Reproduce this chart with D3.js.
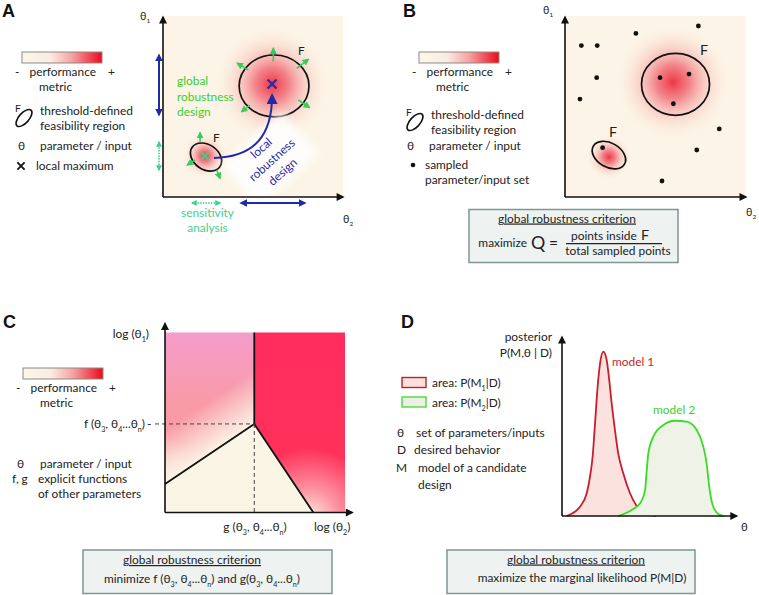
<!DOCTYPE html>
<html><head><meta charset="utf-8">
<script src="https://cdn.jsdelivr.net/npm/d3@7"></script>
<style>
body{margin:0;background:#fff;}
svg text{font-family:Lato,"Open Sans","DejaVu Sans",sans-serif;}
</style></head><body>
<svg id="c" width="759" height="595"></svg>
<script>
// ================= DATA =================
const panelLetters = ["A","B","C","D"];
// Panel A (θ2, θ1 in arbitrary units 0-100)
const aRegions = [ {cx:61.7, cy:61.7, rx:19.4, ry:17.2, rot:0}, {cx:23.9, cy:22.2, rx:9.4, ry:6.9, rot:35} ];
const aPeaks = [[60.6,62.8],[23.3,22.8]];
const aGlow = [31, 12];
const aOutward = [[61.3,75.2,61.3,82.6],[74.3,71.5,80.7,76.5],[47.4,70.6,41.3,74.3],[48.3,51.1,43.7,47.4],[75.2,53.9,81.3,49.8],
                  [20.6,30.7,20.6,35.7],[17.8,20.6,13.5,17.8],[29.8,15.0,31.7,10.4]];
const aLocalPath = [[28.3,21.7],[51.1,22.2],[60.6,34.4],[60.6,56.5]];
const aRangesY = [{from:78.9,to:45.6,kind:"blue"},{from:30.6,to:15.0,kind:"green"}];
const aRangesX = [{from:16.1,to:31.7,kind:"green"},{from:43.3,to:78.9,kind:"blue"}];
// Panel B
const bRegions = [ {cx:61.4, cy:62.6, rx:18.9, ry:17.2, rot:0}, {cx:24.4, cy:23.3, rx:10, ry:6.7, rot:30} ];
const bPeaks = [[60,63.9],[24.4,22.2]];
const bGlow = [31, 12];
const bSamples = [[9.1,84.1],[17.9,84.1],[39.4,90.9],[74.1,95.0],[17.6,66.3],[8.3,54.4],[85.7,37.8],[73.2,26.1],[53.9,8.9],
                  [52.8,66.3],[68.9,68.3],[60.2,51.8],[20.9,27.4]];
// Panel C
const cF = 49.2, cG = 49.6, cLeftY = 15.8, cBottomX = 82.4;
// Panel D posterior curves
const model1 = [[2.7,0],[10.4,5.2],[14.3,12.7],[16.2,22.0],[17.7,33.1],[19.1,51.8],[20.6,72.2],[22.0,85.3],[23.9,91.8],[25.8,87.2],
                [27.3,76.0],[28.7,63.0],[30.6,48.0],[32.5,35.0],[35.4,23.9],[39.3,12.7],[42.8,6.1],[46.1,2.4],[50.9,0.6],[54.3,0]];
const model2 = [[32.4,0],[40.3,3.4],[45.1,7.1],[48.0,14.5],[49.0,25.7],[49.9,35.0],[52.8,44.3],[58.6,50.8],[65.3,53.2],[72.1,52.7],
                [77.9,48.0],[81.7,38.7],[83.6,29.4],[85.1,16.4],[87.1,6.1],[90.3,1.1],[93.2,0]];

// ================= SETUP =================
const BG = "#fcf4e6", INK = "#222";
const BLUE = "#1f2aa8", GREEN = "#35cc5a", TEAL = "#42d08c", GTXT = "#3bcf2e";
const svg = d3.select("#c");
// calibrate font size so "threshold-defined" is ~93px wide, like the reference
const probe = svg.append("text").attr("font-size",100).text("threshold-defined");
const FS = Math.min(16.5, Math.max(11, 100*93/probe.node().getComputedTextLength()));
probe.remove();
const defs = svg.append("defs");
function marker(id, color, w, h){
  defs.append("marker").attr("id",id).attr("viewBox","0 0 10 10").attr("refX",8).attr("refY",5)
    .attr("markerUnits","userSpaceOnUse").attr("markerWidth",w).attr("markerHeight",h).attr("orient","auto-start-reverse")
    .append("path").attr("d","M0,0L10,5L0,10z").attr("fill",color);
}
marker("mBlack","#111",10,8); marker("mBlue",BLUE,8,8); marker("mBlueBig",BLUE,12,11);
marker("mGreen",GREEN,7,7); marker("mTeal",TEAL,6,6);
function grad(id, stops, type, attrs){
  const g = defs.append(type||"linearGradient").attr("id",id);
  if(attrs) Object.entries(attrs).forEach(([k,v])=>g.attr(k,v));
  stops.forEach(s=>g.append("stop").attr("offset",s[0]).attr("stop-color",s[1]).attr("stop-opacity",s[2]==null?1:s[2]));
}
grad("perf",[[0,"#fdf6ea"],[0.35,"#fbece0"],[0.62,"#f6a4a4"],[0.85,"#f24650"],[1,"#ec0a1a"]]);
grad("glow",[[0,"#ee2c3c",0.95],[0.3,"#f06470",0.78],[0.62,"#f6aaa6",0.42],[1,"#fbe4d6",0]],"radialGradient");
defs.append("filter").attr("id","blur").append("feGaussianBlur").attr("stdDeviation",4);

function rich(t, str, fs){
  const parts = str.split(/(_\w)/); let sh=false;
  parts.forEach(p=>{ if(!p) return;
    if(p[0]==="_" && p.length===2){ t.append("tspan").attr("dy", sh?0:fs*0.3).attr("font-size",fs*0.6).text(p[1]); sh=true; }
    else { t.append("tspan").attr("dy", sh?-fs*0.3:0).text(p); sh=false; }
  });
}
function txt(g,x,y,str,o={}){
  const fs=o.fs||FS;
  const t=g.append("text").attr("x",x).attr("y",y).attr("font-size",fs).attr("fill",o.fill||INK);
  if(o.anchor) t.attr("text-anchor",o.anchor);
  if(o.weight) t.attr("font-weight",o.weight);
  if(o.family) t.style("font-family",o.family);
  if(o.deco) t.style("text-decoration",o.deco);
  rich(t,str,fs); return t;
}
function cross(g,x,y,s,color,w){
  g.append("path").attr("d",`M${x-s},${y-s}L${x+s},${y+s}M${x-s},${y+s}L${x+s},${y-s}`).attr("stroke",color).attr("stroke-width",w).attr("fill","none");
}
function perfLegend(g,x,y){
  g.append("rect").attr("x",x).attr("y",y).attr("width",80).attr("height",11).attr("fill","url(#perf)").attr("stroke","#8a8a8a").attr("stroke-width",1);
  txt(g,x-7,y+24,"-"); txt(g,x+7.5,y+24,"performance"); txt(g,x+86,y+24,"+"); txt(g,x+17,y+39,"metric");
}
function feasLegend(g,ix,iy){
  g.append("ellipse").attr("transform",`translate(${ix},${iy}) rotate(-48)`).attr("rx",10.5).attr("ry",5).attr("fill","none").attr("stroke","#111").attr("stroke-width",1.6);
  txt(g,ix-9,iy-6,"F",{fs:FS*0.85});
  txt(g,ix+16,iy-3,"threshold-defined"); txt(g,ix+16,iy+12,"feasibility region");
}
function axes(g,x,y,xEnd,yEnd){
  g.append("line").attr("x1",x(0)).attr("y1",y(0)).attr("x2",x(xEnd)).attr("y2",y(0)).attr("stroke","#111").attr("stroke-width",1.6).attr("marker-end","url(#mBlack)");
  g.append("line").attr("x1",x(0)).attr("y1",y(0)).attr("x2",x(0)).attr("y2",y(yEnd)).attr("stroke","#111").attr("stroke-width",1.6).attr("marker-end","url(#mBlack)");
}
function regionPanel(g,x,y,regions,peaks,glow){
  g.append("rect").attr("x",x(0)).attr("y",y(100)-1).attr("width",x(100)-x(0)).attr("height",y(0)-y(100)+1).attr("fill",BG);
  peaks.forEach((p,i)=>g.append("circle").attr("cx",x(p[0])).attr("cy",y(p[1])).attr("r",x(glow[i])-x(0)).attr("fill","url(#glow)"));
  regions.forEach(r=>g.append("ellipse").attr("transform",`translate(${x(r.cx)},${y(r.cy)}) rotate(${r.rot})`)
    .attr("rx",x(r.rx)-x(0)).attr("ry",y(0)-y(r.ry)).attr("fill","none").attr("stroke","#111").attr("stroke-width",1.7));
}
function box(g,x0,y0,x1,y1){
  g.append("rect").attr("x",x0).attr("y",y0).attr("width",x1-x0).attr("height",y1-y0).attr("fill","#eef3f2").attr("stroke","#7e9696").attr("stroke-width",1.5);
}
const letterPos = [[2,17],[403,17],[3,328],[401,328]];
panelLetters.forEach((L,i)=>txt(svg,letterPos[i][0],letterPos[i][1],L,{fs:18,weight:"bold",family:"'Liberation Sans',Arial,sans-serif",fill:"#111"}));

// ================= PANEL A =================
const gA = svg.append("g");
const xA = d3.scaleLinear().domain([0,100]).range([163,343]);
const yA = d3.scaleLinear().domain([0,100]).range([197,17]);
regionPanel(gA,xA,yA,aRegions,aPeaks,aGlow);
gA.append("rect").attr("x",-40).attr("y",-30).attr("width",80).attr("height",56).attr("fill","#fff").attr("opacity",0.9)
  .attr("transform","translate(272,161) rotate(-42)").attr("filter","url(#blur)");
aOutward.forEach(a=>gA.append("line").attr("x1",xA(a[0])).attr("y1",yA(a[1])).attr("x2",xA(a[2])).attr("y2",yA(a[3]))
  .attr("stroke",GREEN).attr("stroke-width",1.6).attr("marker-end","url(#mGreen)"));
cross(gA,xA(aPeaks[0][0]),yA(aPeaks[0][1]),4.5,"#2a2aa8",2.2);
cross(gA,xA(aPeaks[1][0]),yA(aPeaks[1][1]),4,TEAL,2);
const lp = d3.path(); const P = aLocalPath.map(p=>[xA(p[0]),yA(p[1])]);
lp.moveTo(...P[0]); lp.bezierCurveTo(...P[1],...P[2],...P[3]);
gA.append("path").attr("d",lp.toString()).attr("fill","none").attr("stroke",BLUE).attr("stroke-width",2).attr("marker-end","url(#mBlueBig)");
function rangeLine(sel,r){
  const b = r.kind==="blue";
  sel.attr("stroke",b?BLUE:TEAL).attr("stroke-width",b?2:1.6).attr("stroke-dasharray",b?null:"1.5,1.2")
    .attr("marker-start",b?"url(#mBlue)":"url(#mTeal)").attr("marker-end",b?"url(#mBlue)":"url(#mTeal)");
}
aRangesY.forEach(r=>rangeLine(gA.append("line").attr("x1",xA(0)-4).attr("x2",xA(0)-4).attr("y1",yA(r.from)).attr("y2",yA(r.to)),r));
aRangesX.forEach(r=>rangeLine(gA.append("line").attr("y1",yA(0)+6).attr("y2",yA(0)+6).attr("x1",xA(r.from)).attr("x2",xA(r.to)),r));
axes(gA,xA,yA,100,100);
txt(gA,140,20,"θ_1",{fs:FS*0.9}); txt(gA,343,223,"θ_2",{fs:FS*0.9});
txt(gA,298,55,"F"); txt(gA,213,142,"F");
["global","robustness","design"].forEach((s,i)=>txt(gA,177,85+i*15.5,s,{fill:GTXT}));
const rt = gA.append("g").attr("transform","translate(272,160) rotate(-42)");
["local","robustness","design"].forEach((s,i)=>txt(rt,0,(i-1)*16+4,s,{anchor:"middle",fill:BLUE}));
txt(gA,207.5,216.5,"sensitivity",{anchor:"middle",fill:TEAL}); txt(gA,207.5,231.5,"analysis",{anchor:"middle",fill:TEAL});
perfLegend(gA,22,52); feasLegend(gA,24,118);
txt(gA,18,150,"θ"); txt(gA,40,150,"parameter / input");
cross(gA,21,166,3.6,"#111",1.8); txt(gA,36,170,"local maximum");

// ================= PANEL B =================
const gB = svg.append("g");
const xB = d3.scaleLinear().domain([0,100]).range([565,745]);
const yB = d3.scaleLinear().domain([0,100]).range([197,17]);
regionPanel(gB,xB,yB,bRegions,bPeaks,bGlow);
gB.selectAll("circle.s").data(bSamples).join("circle").attr("class","s").attr("cx",d=>xB(d[0])).attr("cy",d=>yB(d[1])).attr("r",2.4).attr("fill","#111");
axes(gB,xB,yB,100.5,100);
txt(gB,543,14,"θ_1",{fs:FS*0.9}); txt(gB,746,216,"θ_2",{fs:FS*0.9});
txt(gB,700,55,"F",{fs:FS*1.2}); txt(gB,609,137,"F",{fs:FS*1.2});
perfLegend(gB,419,52); feasLegend(gB,415,122);
txt(gB,407,150,"θ"); txt(gB,429,150,"parameter / input");
gB.append("circle").attr("cx",413).attr("cy",165).attr("r",2.3).attr("fill","#111");
txt(gB,425,168.5,"sampled"); txt(gB,425,183.5,"parameter/input set");
box(gB,469,209.5,678,262.5);
txt(gB,567,222.5,"global robustness criterion",{anchor:"middle",deco:"underline"});
txt(gB,527,246.5,"maximize",{anchor:"end"});
txt(gB,531,249,"Q",{fs:FS*1.5}); txt(gB,549,249,"=",{fs:FS*1.3});
txt(gB,571,240,"points inside"); txt(gB,641,240,"F",{fs:FS*1.2});
gB.append("line").attr("x1",566).attr("x2",662).attr("y1",243.7).attr("y2",243.7).attr("stroke","#222").attr("stroke-width",1.2);
txt(gB,618,255,"total sampled points",{anchor:"middle"});

// ================= PANEL C =================
const gC = svg.append("g");
const xC = d3.scaleLinear().domain([0,100]).range([165,345]);
const yC = d3.scaleLinear().domain([0,100]).range([512.5,332.5]);
const poly = pts=>"M"+pts.map(p=>xC(p[0])+","+yC(p[1])).join("L")+"Z";
const leftPoly = [[0,100],[cG,100],[cG,cF],[0,cLeftY]];
const rightPoly = [[cG,100],[100,100],[100,0],[cBottomX,0],[cG,cF]];
const lowPoly = [[0,0],[0,cLeftY],[cG,cF],[cBottomX,0]];
grad("cLeft",[[0,"#f49ccb"],[0.45,"#f99aa8"],[1,"#fb9aa0"]],"linearGradient",{x1:0,y1:0,x2:0,y2:1});
grad("cRight",[[0,"#ff2c5e"],[1,"#ff3458"]],"linearGradient",{x1:0,y1:0,x2:0,y2:1});
const mid1=[(xC(0)+xC(cG))/2,(yC(cLeftY)+yC(cF))/2];
grad("cLeftFade",[[0,"#fbf3e4",1],[0.35,"#fbefe4",0.7],[1,"#fbf0e4",0]],"linearGradient",
  {gradientUnits:"userSpaceOnUse",x1:mid1[0],y1:mid1[1],x2:mid1[0]-0.55*45,y2:mid1[1]-0.83*45});
grad("cLeftCorner",[[0,"#fbf3e4",0.9],[1,"#fbf3e4",0]],"radialGradient",{gradientUnits:"userSpaceOnUse",cx:xC(0),cy:yC(cLeftY)+5,r:50});
grad("cRightFade",[[0,"#fbf3e4",1],[0.4,"#fce8e0",0.55],[1,"#fbe0e0",0]],"radialGradient",{gradientUnits:"userSpaceOnUse",cx:xC(cBottomX)-4,cy:yC(0)+6,r:70});
gC.append("path").attr("d",poly(leftPoly)).attr("fill","url(#cLeft)");
gC.append("path").attr("d",poly(leftPoly)).attr("fill","url(#cLeftFade)");
gC.append("path").attr("d",poly(leftPoly)).attr("fill","url(#cLeftCorner)");
gC.append("path").attr("d",poly(rightPoly)).attr("fill","url(#cRight)");
gC.append("path").attr("d",poly(rightPoly)).attr("fill","url(#cRightFade)");
gC.append("path").attr("d",poly(lowPoly)).attr("fill","#faf5e4");
gC.append("path").attr("d",`M${xC(cG)},${yC(100)}L${xC(cG)},${yC(cF)}`).attr("stroke","#111").attr("stroke-width",1.8);
gC.append("path").attr("d",`M${xC(0)},${yC(cLeftY)}L${xC(cG)},${yC(cF)}L${xC(cBottomX)},${yC(0)}`).attr("stroke","#111").attr("stroke-width",1.8).attr("fill","none");
gC.append("path").attr("d",`M${xC(0)-10},${yC(cF)}L${xC(cG)},${yC(cF)}M${xC(cG)},${yC(cF)}L${xC(cG)},${yC(0)}`)
  .attr("stroke","#444").attr("stroke-width",1).attr("stroke-dasharray","4,3");
axes(gC,xC,yC,104,105);
txt(gC,149,338,"log (θ_1)",{anchor:"end"});
txt(gC,145,428,"f (θ_3, θ_4...θ_n)",{anchor:"end"}); txt(gC,147,428,"-");
txt(gC,255,531,"g (θ_3, θ_4...θ_n)",{anchor:"middle"});
txt(gC,314,531,"log (θ_2)");
perfLegend(gC,23,368);
txt(gC,17,468,"θ"); txt(gC,40,468,"parameter / input");
txt(gC,12,483,"f, g"); txt(gC,38,483,"explicit functions"); txt(gC,38,498,"of other parameters");
box(gC,83,550,332,593.5);
txt(gC,192,564,"global robustness criterion",{anchor:"middle",deco:"underline"});
txt(gC,202,583,"minimize f (θ_3, θ_4...θ_n) and g(θ_3, θ_4...θ_n)",{anchor:"middle"});

// ================= PANEL D =================
const gD = svg.append("g");
const xD = d3.scaleLinear().domain([0,100]).range([562,735]);
const yD = d3.scaleLinear().domain([0,100]).range([516,337]);
const area = d3.area().x(d=>xD(d[0])).y0(yD(0)).y1(d=>yD(d[1])).curve(d3.curveMonotoneX);
const line = d3.line().x(d=>xD(d[0])).y(d=>yD(d[1])).curve(d3.curveMonotoneX);
gD.append("path").attr("d",area(model1)).attr("fill","#fbe2df");
gD.append("path").attr("d",line(model1)).attr("fill","none").attr("stroke","#c81e2c").attr("stroke-width",1.8);
gD.append("path").attr("d",area(model2)).attr("fill","#eff3e7");
gD.append("path").attr("d",line(model2)).attr("fill","none").attr("stroke","#38dc22").attr("stroke-width",1.8);
axes(gD,xD,yD,101,100);
txt(gD,552,341,"posterior",{anchor:"end"}); txt(gD,552,357,"P(M,θ | D)",{anchor:"end"});
txt(gD,741,531,"θ",{fs:FS*0.95});
txt(gD,612,366,"model 1",{fill:"#c81e2c"}); txt(gD,653,414,"model 2",{fill:GTXT});
gD.append("rect").attr("x",402).attr("y",377.5).attr("width",24).attr("height",10).attr("fill","#fbe0de").attr("stroke","#c21e2c").attr("stroke-width",1.4);
gD.append("rect").attr("x",402).attr("y",397).attr("width",24).attr("height",10).attr("fill","#eef0e6").attr("stroke","#44e03a").attr("stroke-width",1.4);
txt(gD,432,387,"area: P(M_1|D)"); txt(gD,432,407,"area: P(M_2|D)");
txt(gD,397,437,"θ"); txt(gD,416,437,"set of parameters/inputs");
txt(gD,397,454,"D"); txt(gD,414,454,"desired behavior");
txt(gD,396,472,"M"); txt(gD,418,472,"model of a candidate"); txt(gD,418,489,"design");
box(gD,447,550,695,593.5);
txt(gD,576,563.5,"global robustness criterion",{anchor:"middle",deco:"underline"});
txt(gD,582,582,"maximize the marginal likelihood P(M|D)",{anchor:"middle"});
</script></body></html>
